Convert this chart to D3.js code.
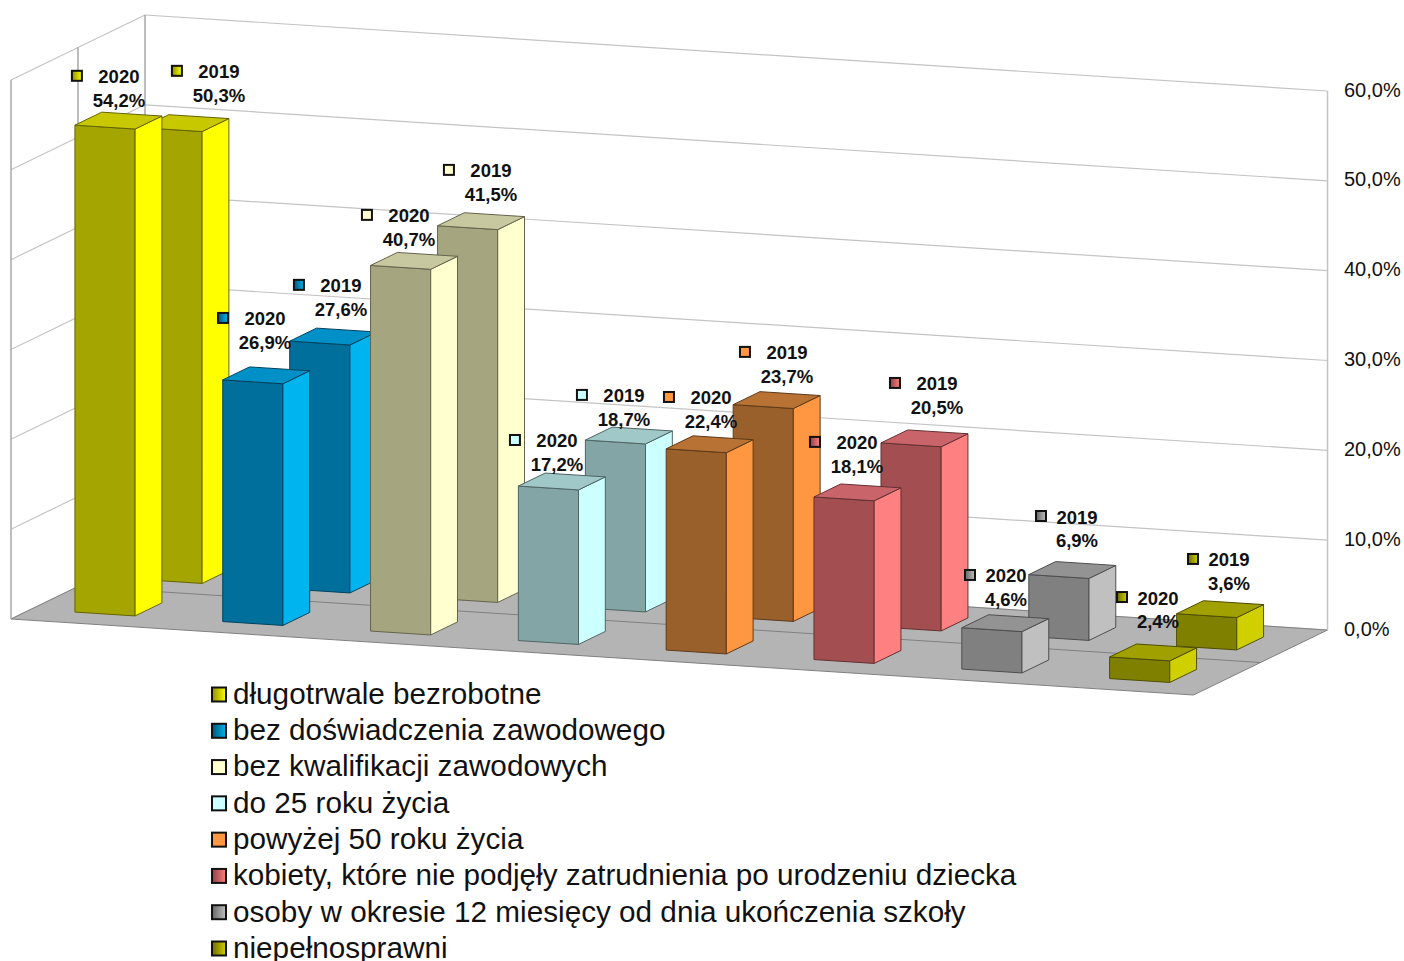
<!DOCTYPE html>
<html>
<head>
<meta charset="utf-8">
<script src="https://cdn.jsdelivr.net/npm/d3@7"></script>
<style>
  body { margin: 0; background: white; }
  text { font-family: "Liberation Sans", Arial, sans-serif; fill: #111; }
</style>
</head>
<body>
<svg class="bars3d" width="1404" height="961"></svg>
<script>
const categories = [
  "długotrwale bezrobotne",
  "bez doświadczenia zawodowego",
  "bez kwalifikacji zawodowych",
  "do 25 roku życia",
  "powyżej 50 roku życia",
  "kobiety, które nie podjęły zatrudnienia po urodzeniu dziecka",
  "osoby w okresie 12 miesięcy od dnia ukończenia szkoły",
  "niepełnosprawni",
];
const years = ["2020", "2019"];
const values2020 = [54.2, 26.9, 40.7, 17.2, 22.4, 18.1, 4.6, 2.4];
const values2019 = [50.3, 27.6, 41.5, 18.7, 23.7, 20.5, 6.9, 3.6];
const frontColors = ["#a5a500", "#006f9b", "#a5a57f", "#84a5a5", "#99602b", "#a34f52", "#808080", "#808000"];
const sideColors = ["#ffff00", "#00b4f0", "#ffffd0", "#ccffff", "#ff9642", "#ff8080", "#c0c0c0", "#d0d000"];
const topColors = ["#c8c800", "#0090c8", "#c8c8a0", "#a0c8c8", "#b87233", "#c8646a", "#939393", "#a0a000"];
// marker fill starts here on the left and ends on the side colour
const markerStart = ["#8f8f00", "#00567a", "#ffffd0", "#ccffff", "#ff9642", "#8f4043", "#666666", "#6b6b00"];

// labels were dragged by hand in the original, so each one has its own shift from the bar top
const labelShift = {
  2020: [[0.5, -13.8], [-1.2, -26.4], [-5.1, -15], [-4.9, -10.5], [1.3, -16.3], [-0.5, -19.5], [0.7, -17.2], [4.9, -24.4]],
  2019: [[33.5, -21.3], [7.7, -20.7], [9.9, -20.3], [-4.9, -9.6], [10.3, -17.2], [12.5, -24.4], [4.7, -23], [8.9, -19.2]],
};

const svg = d3.select("svg.bars3d");
const defs = svg.append("defs");

const FLOOR_X = 11, FLOOR_Y = 619;
const FRONT_WIDTH = 1182.5, FRONT_RISE = 76;
const DEPTH_X = 134, DEPTH_Y = -65;
const BAR_RATIO = 0.407, DEPTH_RATIO = 0.4;

const yScale = d3.scaleLinear().domain([0, 60]).range([629, 90]);
const xScale = d3.scaleBand().domain(categories).range([0, FRONT_WIDTH]);
const depthScale = d3.scaleBand().domain(years).range([0, 1]);

// oblique projection: u along the front edge, d into the depth (0..1), v the value
const project = (u, d, v) => [
  FLOOR_X + u + DEPTH_X * d,
  FLOOR_Y + (u * FRONT_RISE) / FRONT_WIDTH + DEPTH_Y * d + yScale(v) - yScale(0),
];
const poly = (pts) => "M" + pts.map((p) => p.join(",")).join("L") + "Z";

const tickVals = yScale.ticks(6);
const GRID_COLOR = "#c4c4c4";
const EDGE_COLOR = "#a8a8a8";

// WALLS AND FLOOR
const wallG = svg.append("g");
const line = (a, b, color, w) =>
  wallG.append("line")
    .attr("x1", a[0]).attr("y1", a[1])
    .attr("x2", b[0]).attr("y2", b[1])
    .attr("stroke", color).attr("stroke-width", w);

tickVals.forEach((t) => {
  line(project(0, 0, t), project(0, 1, t), GRID_COLOR, 1.2);
  line(project(0, 1, t), project(FRONT_WIDTH, 1, t), GRID_COLOR, 1.2);
});

wallG.append("path")
  .attr("d", poly([project(0, 0, 0), project(FRONT_WIDTH, 0, 0), project(FRONT_WIDTH, 1, 0), project(0, 1, 0)]))
  .attr("fill", "#b4b4b4")
  .attr("stroke", "#808080")
  .attr("stroke-width", 1);

line(project(0, 0.5, 0), project(FRONT_WIDTH, 0.5, 0), "#808080", 1);
line(project(0, 0, 0), project(0, 0, 60), EDGE_COLOR, 1.5);
line(project(0, 0.5, 0), project(0, 0.5, 60), "#999999", 1.3);
line(project(0, 1, 0), project(0, 1, 60), "#999999", 1.3);
line(project(FRONT_WIDTH, 1, 0), project(FRONT_WIDTH, 1, 60), GRID_COLOR, 1.5);

// AXIS
const yAxis = d3.axisRight(yScale)
  .tickValues(tickVals)
  .tickSize(0)
  .tickPadding(17)
  .tickFormat((d) => d3.format(".1f")(d).replace(".", ",") + "%");

svg.append("g")
  .attr("transform", `translate(1327, 0)`)
  .call(yAxis)
  .call((g) => g.select(".domain").remove())
  .call((g) =>
    g.selectAll("text")
      .attr("dy", "0.3em")
      .attr("font-size", 20)
      .attr("fill", "#111")
      .attr("font-family", '"Liberation Sans", Arial, sans-serif'),
  );

categories.forEach((c, i) => {
  const grad = defs.append("linearGradient").attr("id", "mark" + i);
  grad.append("stop").attr("offset", "0%").attr("stop-color", markerStart[i]);
  grad.append("stop").attr("offset", "100%").attr("stop-color", sideColors[i]);
});

// BARS, back row first so the front row paints over it
const rows = [
  { year: "2019", values: values2019 },
  { year: "2020", values: values2020 },
];
const barWidth = xScale.bandwidth() * BAR_RATIO;
const barDepth = depthScale.bandwidth() * DEPTH_RATIO;

rows.forEach((row) => {
  const barG = svg.append("g").attr("class", "row-" + row.year);
  const d0 = depthScale(row.year) + (depthScale.bandwidth() - barDepth) / 2;
  const d1 = d0 + barDepth;
  row.values.forEach((v, i) => {
    const u0 = xScale(categories[i]) + (xScale.bandwidth() - barWidth) / 2;
    const u1 = u0 + barWidth;
    const stroke = d3.color(frontColors[i]).darker(1.4);
    const faces = [
      { fill: frontColors[i], pts: [project(u0, d0, 0), project(u1, d0, 0), project(u1, d0, v), project(u0, d0, v)] },
      { fill: sideColors[i], pts: [project(u1, d0, 0), project(u1, d1, 0), project(u1, d1, v), project(u1, d0, v)] },
      { fill: topColors[i], pts: [project(u0, d0, v), project(u1, d0, v), project(u1, d1, v), project(u0, d1, v)] },
    ];
    barG.selectAll(null)
      .data(faces)
      .enter()
      .append("path")
      .attr("d", (f) => poly(f.pts))
      .attr("fill", (f) => f.fill)
      .attr("stroke", stroke)
      .attr("stroke-width", 1)
      .attr("stroke-linejoin", "round");
  });
});

// DATA LABELS on top of all bars
rows.forEach((row) => {
  const d = depthScale(row.year) + depthScale.bandwidth() / 2;
  row.values.forEach((v, i) => {
    const u = xScale(categories[i]) + xScale.bandwidth() / 2;
    const anchor = project(u, d, v);
    const shift = labelShift[row.year][i];
    const cx = anchor[0] + shift[0];
    const base = anchor[1] + shift[1];
    const g = svg.append("g").attr("class", "label");
    g.append("text")
      .attr("x", cx).attr("y", base - 23.5)
      .attr("text-anchor", "middle")
      .attr("font-size", 18.5).attr("font-weight", "bold")
      .text(row.year);
    g.append("text")
      .attr("x", cx).attr("y", base)
      .attr("text-anchor", "middle")
      .attr("font-size", 18.5).attr("font-weight", "bold")
      .text(v.toFixed(1).replace(".", ",") + "%");
    const markDx = v < 10 ? 36 : 42;
    g.append("rect")
      .attr("x", cx - markDx - 5).attr("y", base - 36)
      .attr("width", 10).attr("height", 10)
      .attr("fill", `url(#mark${i})`)
      .attr("stroke", "#111").attr("stroke-width", 2);
  });
});

// LEGEND
const legendY = d3.scalePoint().domain(categories).range([694.5, 948.5]);
const legend = svg.append("g")
  .selectAll("g")
  .data(categories)
  .enter()
  .append("g")
  .attr("transform", (d) => `translate(211, ${legendY(d)})`);

legend.append("rect")
  .attr("x", 1).attr("y", -7)
  .attr("width", 14).attr("height", 14)
  .attr("fill", (d, i) => `url(#mark${i})`)
  .attr("stroke", "#111")
  .attr("stroke-width", 2);

legend.append("text")
  .attr("x", 22).attr("y", 9.4)
  .attr("font-size", 29.7)
  .text((d) => d);
</script>
</body>
</html>
